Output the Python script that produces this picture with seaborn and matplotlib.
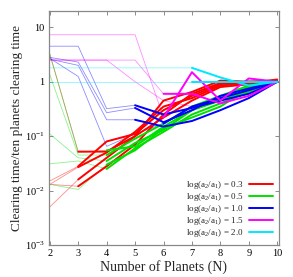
import matplotlib

matplotlib.use("Agg")
import matplotlib.pyplot as plt
import seaborn as sns

# planet counts
n_planets = [2, 3, 4, 5, 6, 7, 8, 9, 10]

# clearing time ratios, one list per run; thick part starts at index given
red_runs = [
    [3.2, 0.052, 0.052, 0.10, 0.45, 0.65, 1.05, 1.0, 1.0],
    [0.015, 0.028, 0.08, 0.11, 0.30, 0.55, 0.90, 1.0, 1.05],
    [0.013, 0.027, 0.05, 0.12, 0.35, 0.50, 0.85, 0.95, 1.1],
    [0.005, 0.016, 0.04, 0.10, 0.22, 0.45, 0.80, 0.90, 1.0],
    [0.013, 0.012, 0.028, 0.07, 0.25, 0.60, 0.95, 1.0, 1.0],
]
green_runs = [
    [3.3, 0.05, 0.055, 0.065, 0.15, 0.30, 0.50, 0.80, 1.0],
    [1.35, 0.045, 0.045, 0.09, 0.17, 0.35, 0.55, 0.85, 1.0],
    [0.11, 0.04, 0.035, 0.075, 0.13, 0.30, 0.45, 0.70, 1.0],
    [0.031, 0.035, 0.025, 0.06, 0.12, 0.25, 0.40, 0.65, 1.0],
    [0.013, 0.0105, 0.03, 0.055, 0.14, 0.22, 0.35, 0.75, 1.0],
]
blue_runs = [
    [4.5, 4.5, 0.32, 0.37, 0.25, 0.33, 0.45, 0.60, 1.0],
    [2.8, 2.3, 0.27, 0.33, 0.18, 0.30, 0.55, 0.75, 1.0],
    [2.6, 2.0, 0.20, 0.20, 0.15, 0.19, 0.30, 0.50, 1.0],
    [2.7, 1.25, 0.065, 0.11, 0.17, 0.35, 0.50, 0.70, 1.0],
]
magenta_runs = [
    [7.3, 7.3, 7.3, 7.3, 0.22, 1.5, 0.45, 1.15, 1.0],
    [2.5, 2.5, 2.5, 2.5, 0.6, 0.6, 0.40, 0.55, 1.0],
    [2.5, 2.5, 2.5, 1.0, 0.45, 0.35, 0.50, 0.80, 1.0],
]
cyan_runs = [
    [1.8, 1.8, 1.8, 1.8, 1.8, 1.8, 1.2, 0.85, 1.0],
    [1.0, 1.0, 1.0, 1.0, 1.0, 1.0, 1.0, 1.0, 1.0],
]
red_thick = [1, 1, 1, 1, 1]
green_thick = [2, 2, 2, 2, 2]
blue_thick = [3, 3, 3, 4]
magenta_thick = [4, 4, 9]
cyan_thick = [5, 5]

labels = ["0.3", "0.5", "1.0", "1.5", "2.0"]
colors = ["#ff0000", "#00e000", "#0000ff", "#ff00ff", "#00e8ff"]

sns.set_style("ticks")
plt.rcParams["font.family"] = ["Liberation Serif", "DejaVu Serif"]
plt.rcParams["mathtext.fontset"] = "custom"
plt.rcParams["mathtext.rm"] = "Liberation Serif"

fig = plt.figure(figsize=(2.93, 2.77), dpi=100)
ax = fig.add_axes([0.167, 0.1155, 0.785, 0.845])

groups = [
    (red_runs, red_thick),
    (green_runs, green_thick),
    (blue_runs, blue_thick),
    (magenta_runs, magenta_thick),
    (cyan_runs, cyan_thick),
]

# thin lines first
for (runs, thick), col in zip(groups, colors):
    for vals, t in zip(runs, thick):
        sns.lineplot(x=n_planets, y=vals, color=col, lw=0.6, alpha=0.45, ax=ax)

for (runs, thick), col, lab in zip(groups, colors, labels):
    first = True
    for vals, t in zip(runs, thick):
        if t >= len(n_planets) - 1:
            continue
        sns.lineplot(x=n_planets[t:], y=vals[t:], color=col, lw=1.4, ax=ax,
                     label=f"log(a$_2$/a$_1$) = {lab}" if first else None)
        first = False

ax.set_yscale("log")
ax.set_xlim(1.97, 10.06)
ax.set_ylim(1e-3, 20)
ax.set_xticks(n_planets)
ax.set_xticklabels([str(n) for n in n_planets])
ax.set_yticks([1e-3, 1e-2, 1e-1, 1, 10])
ax.set_yticklabels(["$\\mathdefault{10^{-3}}$", "$\\mathdefault{10^{-2}}$",
                    "$\\mathdefault{10^{-1}}$", "1", "10"])
ax.minorticks_off()
ax.tick_params(direction="in", length=3, width=0.6, labelsize=7.5,
               top=True, right=True, colors="#777777", labelcolor="black", pad=3)
for s in ax.spines.values():
    s.set_color("#888888")
    s.set_linewidth(0.9)

ax.set_xlabel("Number of Planets (N)", fontsize=10, labelpad=1)
ax.set_ylabel("Clearing time/ten planets clearing time", fontsize=9.5, labelpad=1)

ax.legend(loc="lower right", frameon=False, fontsize=6.5, markerfirst=False,
          handlelength=2.6, labelspacing=0.0, borderaxespad=0.3, handletextpad=0.6)

fig.savefig("out.png", dpi=100)
